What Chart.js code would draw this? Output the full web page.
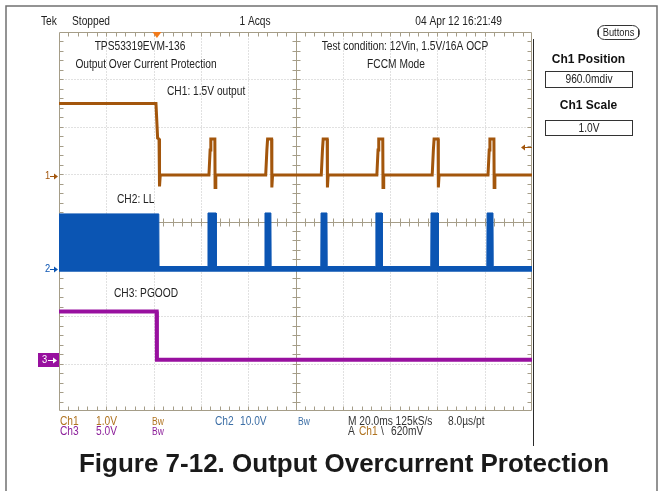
<!DOCTYPE html>
<html>
<head>
<meta charset="utf-8">
<script src="https://cdn.jsdelivr.net/npm/chart.js@4.4.0/dist/chart.umd.min.js"></script>
<style>
  html, body { margin: 0; padding: 0; background: #fff; }
  #scope { display: block; }
</style>
</head>
<body>
<canvas id="scope" width="663" height="491"></canvas>
<script>
// time in ms (10 div x 20 ms/div), traces in volts
const ch1Time = [0, 41.0, 41.7, 42.3, 42.5, 42.8,
  63.4, 63.9, 64.2, 65.9, 66.0, 66.3,
  87.4, 87.9, 88.2, 89.9, 90.0, 90.3,
  110.9, 111.4, 111.7, 113.4, 113.5, 113.8,
  134.4, 134.9, 135.2, 136.9, 137.0, 137.3,
  157.8, 158.3, 158.6, 160.3, 160.4, 160.7,
  181.4, 181.9, 182.2, 183.9, 184.0, 184.3,
  200];
const ch1Volts = [1.53, 1.53, 0.8, 0.78, -0.22, 0.02,
  0.02, 0.55, 0.78, 0.78, -0.24, 0.02,
  0.02, 0.55, 0.78, 0.78, -0.24, 0.02,
  0.02, 0.55, 0.78, 0.78, -0.24, 0.02,
  0.02, 0.55, 0.78, 0.78, -0.24, 0.02,
  0.02, 0.55, 0.78, 0.78, -0.24, 0.02,
  0.02, 0.55, 0.78, 0.78, -0.24, 0.02,
  0.02];

// LL switching node: peak-detect envelope (top edge), floor is the bottom edge
const ch2Time = [0, 42.2, 42.3,
  62.9, 63.0, 66.4, 66.5,
  87.0, 87.1, 89.6, 89.7,
  110.7, 110.8, 113.3, 113.4,
  133.9, 134.0, 136.6, 136.7,
  157.2, 157.3, 160.3, 160.4,
  180.9, 181.0, 183.5, 183.6,
  200];
const ch2Max = [11.6, 11.6, 0.5,
  0.5, 11.8, 11.8, 0.5,
  0.5, 11.8, 11.8, 0.5,
  0.5, 11.8, 11.8, 0.5,
  0.5, 11.8, 11.8, 0.5,
  0.5, 11.8, 11.8, 0.5,
  0.5, 11.8, 11.8, 0.5,
  0.5];
const ch2Floor = -0.6;

const ch3Time = [0, 41.3, 41.4, 200];
const ch3Volts = [5.15, 5.15, 0.05, 0.05];

const channelScale = [1.0, 10.0, 5.0];      // V/div
const channelPosition = [0.96, -1.0, -2.93]; // div
const channelColor = ['#a3560c', '#0b55b3', '#98109f'];
const channelTextColor = ['#b0731f', '#3d6fa6', '#8c1f9a'];
const triggerTime = 41.4;   // ms
const triggerLevel = 0.62;  // V on Ch1

const toDiv = (values, ch) => values.map(v => channelPosition[ch] + v / channelScale[ch]);
const pts = (times, divs) => times.map((t, i) => ({ x: t, y: divs[i] }));

// the scope font is condensed; squeeze Liberation Sans horizontally
const SANS = '"Liberation Sans", Arial, sans-serif';
const SQUEEZE = 0.85;

function label(ctx, s, x, y, color, font, align, sx) {
  ctx.save();
  ctx.font = font;
  ctx.fillStyle = color;
  ctx.textAlign = align || 'left';
  ctx.textBaseline = 'middle';
  ctx.translate(x, y);
  ctx.scale(sx || 1, 1);
  ctx.fillText(s, 0, 0);
  ctx.restore();
}
const scopeText = (ctx, s, x, y, color, align, px) =>
  label(ctx, s, x, y, color, `${px || 12}px ${SANS}`, align, SQUEEZE);

function arrow(ctx, x0, x1, y, color) {
  const dir = Math.sign(x1 - x0);
  ctx.strokeStyle = color;
  ctx.fillStyle = color;
  ctx.lineWidth = 1;
  ctx.beginPath();
  ctx.moveTo(x0, y + 0.5); ctx.lineTo(x1 - dir * 3, y + 0.5);
  ctx.stroke();
  ctx.beginPath();
  ctx.moveTo(x1, y + 0.5);
  ctx.lineTo(x1 - dir * 4, y - 2.5);
  ctx.lineTo(x1 - dir * 4, y + 3.5);
  ctx.closePath();
  ctx.fill();
}

const graticule = {
  id: 'graticule',
  beforeDatasetsDraw(chart) {
    const { ctx, chartArea: a, scales: { x, y } } = chart;
    const L = a.left + 0.5, R = a.right - 0.5, T = a.top + 0.5, B = a.bottom - 0.5;
    const px = t => Math.round(x.getPixelForValue(t)) + 0.5;
    const py = d => Math.round(y.getPixelForValue(d)) + 0.5;
    ctx.save();
    ctx.lineWidth = 1;

    // dotted division lines
    ctx.strokeStyle = '#c2c2c2';
    ctx.setLineDash([1, 2]);
    ctx.beginPath();
    for (let t = 20; t < 200; t += 20) {
      if (t === 100) continue;
      ctx.moveTo(px(t), T); ctx.lineTo(px(t), B);
    }
    for (let d = -3; d <= 3; d++) {
      if (d === 0) continue;
      ctx.moveTo(L, py(d)); ctx.lineTo(R, py(d));
    }
    ctx.stroke();
    ctx.setLineDash([]);

    // centre cross, frame and minor ticks (5 per division)
    const cx = px(100), cy = py(0);
    ctx.strokeStyle = '#a59d88';
    ctx.beginPath();
    ctx.moveTo(cx, T); ctx.lineTo(cx, B);
    ctx.moveTo(L, cy); ctx.lineTo(R, cy);
    for (let k = 1; k < 50; k++) {
      const p = px(k * 4);
      ctx.moveTo(p, T); ctx.lineTo(p, T + 4);
      ctx.moveTo(p, B); ctx.lineTo(p, B - 4);
      ctx.moveTo(p, cy - 4); ctx.lineTo(p, cy + 4);
    }
    for (let k = 1; k < 40; k++) {
      const p = py(-4 + k * 0.2);
      ctx.moveTo(L, p); ctx.lineTo(L + 4, p);
      ctx.moveTo(R, p); ctx.lineTo(R - 4, p);
      ctx.moveTo(cx - 4, p); ctx.lineTo(cx + 4, p);
    }
    ctx.rect(L, T, R - L, B - T);
    ctx.stroke();
    ctx.restore();
  }
};

const overlay = {
  id: 'overlay',
  afterDraw(chart) {
    const { ctx, chartArea: a, scales: { x, y } } = chart;
    ctx.save();

    // page frame and menu separator
    ctx.strokeStyle = '#707070';
    ctx.lineWidth = 1.5;
    ctx.beginPath();
    ctx.moveTo(6, 491); ctx.lineTo(6, 6); ctx.lineTo(657, 6); ctx.lineTo(657, 491);
    ctx.stroke();
    ctx.strokeStyle = '#2b2b2b';
    ctx.lineWidth = 1;
    ctx.beginPath();
    ctx.moveTo(533.5, 39); ctx.lineTo(533.5, 446);
    ctx.stroke();

    // channel ground markers
    const y1 = Math.round(y.getPixelForValue(channelPosition[0]));
    const y2 = Math.round(y.getPixelForValue(channelPosition[1]));
    const y3 = Math.round(y.getPixelForValue(channelPosition[2]));
    scopeText(ctx, '1', 45, y1, channelColor[0], 'left', 11);
    arrow(ctx, 50, a.left - 1, y1, channelColor[0]);
    scopeText(ctx, '2', 45, y2, channelColor[1], 'left', 11);
    arrow(ctx, 50, a.left - 1, y2, channelColor[1]);
    ctx.fillStyle = channelColor[2];
    ctx.fillRect(38, y3 - 7, 21, 14);
    scopeText(ctx, '3', 42, y3, '#ffffff', 'left', 11);
    arrow(ctx, 48, 57, y3, '#ffffff');

    // trigger position and level
    const tx = x.getPixelForValue(triggerTime);
    ctx.fillStyle = '#f27a1a';
    ctx.beginPath();
    ctx.moveTo(tx - 4.5, a.top); ctx.lineTo(tx + 4.5, a.top); ctx.lineTo(tx, a.top + 6);
    ctx.closePath();
    ctx.fill();
    const ty = Math.round(y.getPixelForValue(channelPosition[0] + triggerLevel / channelScale[0]));
    arrow(ctx, a.right, a.right - 11, ty, channelColor[0]);

    // header
    const ink = '#222222';
    scopeText(ctx, 'Tek', 41, 22, ink);
    scopeText(ctx, 'Stopped', 72, 22, ink);
    scopeText(ctx, '1 Acqs', 255, 22, ink, 'center');
    scopeText(ctx, '04 Apr 12 16:21:49', 502, 22, ink, 'right');

    // annotations inside the graticule
    scopeText(ctx, 'TPS53319EVM-136', 140, 47, ink, 'center');
    scopeText(ctx, 'Output Over Current Protection', 146, 65, ink, 'center');
    scopeText(ctx, 'Test condition: 12Vin, 1.5V/16A OCP', 405, 47, ink, 'center');
    scopeText(ctx, 'FCCM Mode', 396, 65, ink, 'center');
    scopeText(ctx, 'CH1: 1.5V output', 167, 92, ink);
    scopeText(ctx, 'CH2: LL', 117, 200, ink);
    scopeText(ctx, 'CH3: PGOOD', 114, 294, ink);

    // status rows
    const r1 = 422, r2 = 432;
    scopeText(ctx, 'Ch1', 60, r1, channelTextColor[0]);
    scopeText(ctx, '1.0V', 96, r1, channelTextColor[0]);
    scopeText(ctx, 'Bw', 152, r1, channelTextColor[0], 'left', 10);
    scopeText(ctx, 'Ch2', 215, r1, channelTextColor[1]);
    scopeText(ctx, '10.0V', 240, r1, channelTextColor[1]);
    scopeText(ctx, 'Bw', 298, r1, channelTextColor[1], 'left', 10);
    scopeText(ctx, 'M 20.0ms 125kS/s', 348, r1, '#333333');
    scopeText(ctx, '8.0\u00b5s/pt', 448, r1, '#333333');
    scopeText(ctx, 'Ch3', 60, r2, channelTextColor[2]);
    scopeText(ctx, '5.0V', 96, r2, channelTextColor[2]);
    scopeText(ctx, 'Bw', 152, r2, channelTextColor[2], 'left', 10);
    scopeText(ctx, 'A', 348, r2, '#333333');
    scopeText(ctx, 'Ch1', 359, r2, channelTextColor[0]);
    scopeText(ctx, '\\', 381, r2, '#333333');
    scopeText(ctx, '620mV', 391, r2, '#333333');

    // side menu
    ctx.strokeStyle = '#333333';
    ctx.lineWidth = 1;
    ctx.beginPath();
    ctx.roundRect(597.5, 25.5, 42, 14, 7);
    ctx.stroke();
    ctx.beginPath();
    ctx.moveTo(598.5, 29); ctx.lineTo(598.5, 37);
    ctx.moveTo(638.5, 29); ctx.lineTo(638.5, 37);
    ctx.stroke();
    scopeText(ctx, 'Buttons', 618.5, 32.5, ink, 'center', 11);
    label(ctx, 'Ch1 Position', 588.5, 60, '#111111', `bold 12px ${SANS}`, 'center');
    ctx.strokeRect(545.5, 71.5, 87, 16);
    scopeText(ctx, '960.0mdiv', 589, 80, ink, 'center');
    label(ctx, 'Ch1 Scale', 588.5, 106, '#111111', `bold 12px ${SANS}`, 'center');
    ctx.strokeRect(545.5, 120.5, 87, 15);
    scopeText(ctx, '1.0V', 589, 128.5, ink, 'center');

    // figure caption
    label(ctx, 'Figure 7-12. Output Overcurrent Protection', 344, 465, '#1a1a1a',
      `bold 26px ${SANS}`, 'center');
    ctx.restore();
  }
};

new Chart(document.getElementById('scope'), {
  type: 'line',
  data: {
    datasets: [
      {
        label: 'CH1: 1.5V output',
        data: pts(ch1Time, toDiv(ch1Volts, 0)),
        borderColor: channelColor[0],
        borderWidth: 3,
        fill: false,
        pointRadius: 0
      },
      {
        label: 'CH2: LL',
        data: pts(ch2Time, toDiv(ch2Max, 1)),
        borderColor: channelColor[1],
        backgroundColor: channelColor[1],
        borderWidth: 1,
        fill: { value: channelPosition[1] + ch2Floor / channelScale[1] },
        pointRadius: 0
      },
      {
        label: 'CH3: PGOOD',
        data: pts(ch3Time, toDiv(ch3Volts, 2)),
        borderColor: channelColor[2],
        borderWidth: 4,
        fill: false,
        pointRadius: 0
      }
    ]
  },
  options: {
    responsive: false,
    animation: false,
    events: [],
    layout: { padding: { left: 59, top: 32, right: 131, bottom: 80 } },
    elements: { line: { tension: 0 } },
    scales: {
      x: { type: 'linear', min: 0, max: 200, display: false },
      y: { type: 'linear', min: -4, max: 4, display: false }
    },
    plugins: {
      legend: { display: false },
      tooltip: { enabled: false }
    }
  },
  plugins: [graticule, overlay]
});
</script>
</body>
</html>
